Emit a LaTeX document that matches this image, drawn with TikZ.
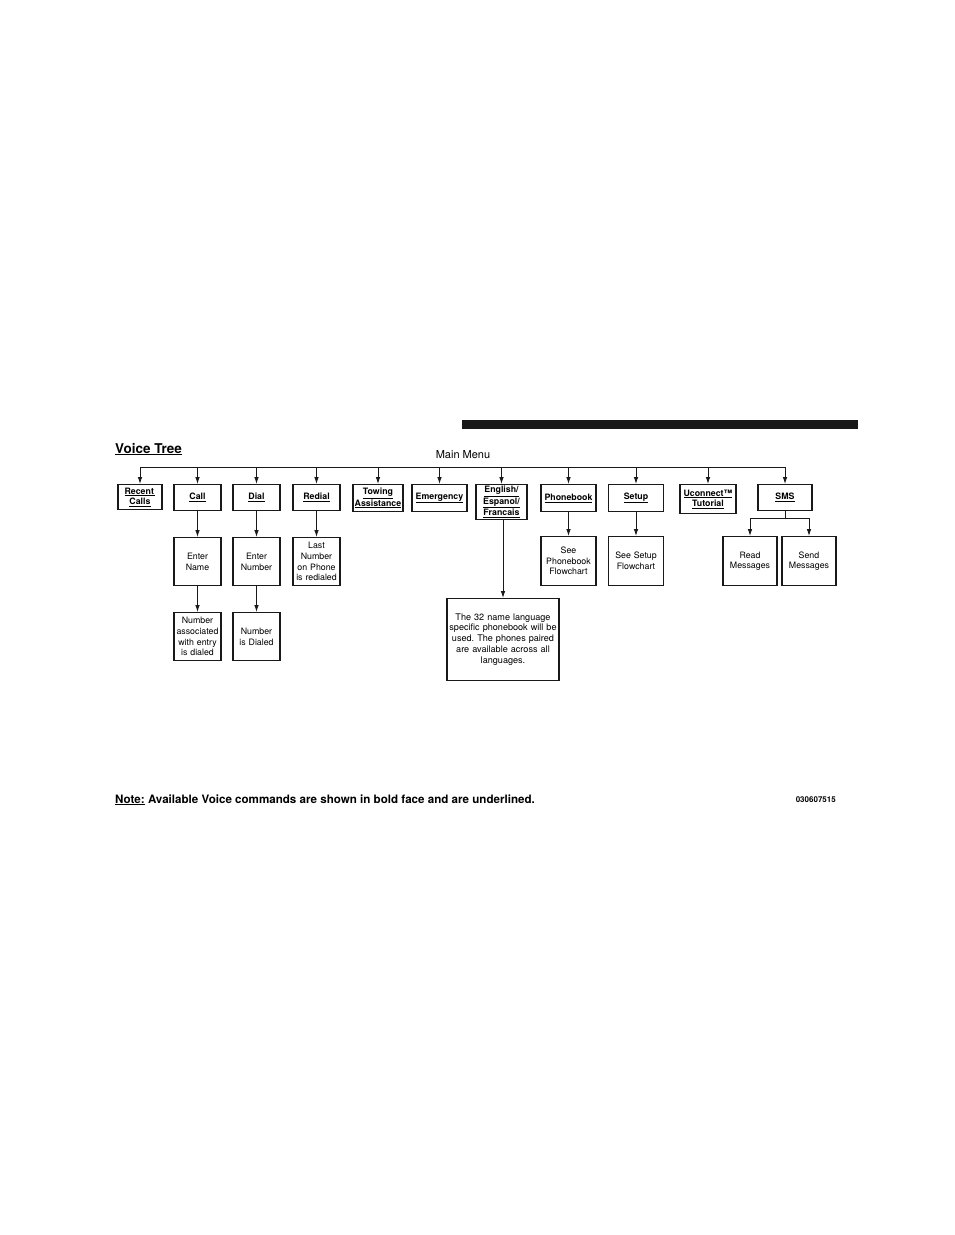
\documentclass[tikz,border=0pt]{standalone}
\usepackage{fontspec}
\setmainfont{TeX Gyre Heros}
\usetikzlibrary{arrows.meta}
\newcommand{\ulb}[1]{\underline{#1}}
\frenchspacing
\begin{document}
\begin{tikzpicture}[x=1pt,y=-1pt,
  bx/.style={draw=black!90, line width=1.1pt, inner sep=0pt, align=center, anchor=north,
    font=\fontsize{8.8}{10.6}\selectfont},
  cmd/.style={bx, font=\fontsize{8.8}{10.3}\selectfont\bfseries},
  sz/.style 2 args={minimum width=#1, minimum height=#2, text width=#1-2},
  conn/.style={line width=0.9pt, draw=black!90},
  arr/.style={conn, -{Latex[length=7pt,width=4.6pt]}}]
\useasboundingbox (0,0) rectangle (954,1235);
% top bar
\fill[black!90] (462,420) rectangle (858,429);
\node[anchor=base west, font=\fontsize{13.5}{15}\selectfont\bfseries, inner sep=0pt] (title) at (115,453) {\underline{Voice Tree}};
\node[anchor=base, font=\fontsize{11}{13}\selectfont, inner sep=0pt] (mm) at (463,458) {Main Menu};
% bus
\coordinate (busL) at (140,467);
\coordinate (busR) at (786,467);
\draw[conn] (busL) -- (busR);
% first row
\node[cmd, sz={44}{25}] (rc)    at (140,484)   {\ulb{Recent\,}\\\ulb{Calls}};
\node[cmd, sz={47}{26}] (call)  at (197.5,484) {\ulb{Call}};
\node[cmd, sz={47}{26}] (dial)  at (256.5,484) {\ulb{Dial}};
\node[cmd, sz={47}{26}] (redial) at (316.5,484) {\ulb{Redial}};
\node[cmd, sz={50}{27}] (tow)   at (378,484)   {\ulb{Towing}\\\ulb{Assistance}};
\node[cmd, sz={55}{27}] (emer)  at (439.5,484) {\ulb{Emergency}};
\node[cmd, sz={51}{35}] (eng)   at (501.5,484) {\ulb{English/}\\\ulb{Espanol/}\\\ulb{Francais}};
\node[cmd, sz={55}{27}] (phone) at (568.5,484) {\ulb{Phonebook}};
\node[cmd, sz={55}{27}] (setup) at (636,484)   {\ulb{Setup}};
\node[cmd, sz={56}{29}] (ucon)  at (708,484)   {\ulb{Uconnect™}\\\ulb{Tutorial}};
\node[cmd, sz={54}{26}] (sms)   at (785,484)   {\ulb{SMS}};
\foreach \n in {rc,call,dial,redial,tow,emer,eng,phone,setup,ucon,sms}
  \draw[arr] (\n.north |- busL) -- (\n.north);
% second row
\node[bx, sz={47}{48}] (ename) at (197.5,537) {Enter\\Name};
\node[bx, sz={47}{48}] (enum)  at (256.5,537) {Enter\\Number};
\node[bx, sz={47}{48}] (last)  at (316.5,537) {Last\\Number\\on Phone\\is redialed};
\node[bx, sz={55}{49}] (seepb) at (568.5,536) {See\\Phonebook\\Flowchart};
\node[bx, sz={55}{49}] (seesu) at (636,536)   {See Setup\\Flowchart};
\node[bx, sz={54}{49}] (read)  at (750,536)   {Read\\Messages};
\node[bx, sz={54}{49}] (send)  at (809,536)   {Send\\Messages};
\draw[arr] (call.south) -- (ename.north);
\draw[arr] (dial.south) -- (enum.north);
\draw[arr] (redial.south) -- (last.north);
\draw[arr] (phone.south) -- (seepb.north);
\draw[arr] (setup.south) -- (seesu.north);
\coordinate (smsj) at (785,518);
\draw[conn] (sms.south) -- (smsj);
\draw[conn] (read.north |- smsj) -- (send.north |- smsj);
\draw[arr] (read.north |- smsj) -- (read.north);
\draw[arr] (send.north |- smsj) -- (send.north);
% third row
\node[bx, sz={47}{48}] (nassoc) at (197.5,612) {Number\\associated\\with entry\\is dialed};
\node[bx, sz={47}{48}] (ndial)  at (256.5,612) {Number\\is Dialed};
\draw[arr] (ename.south) -- (nassoc.north);
\draw[arr] (enum.south) -- (ndial.north);
% language box
\node[bx, sz={112}{82}, font=\fontsize{9.1}{10.9}\selectfont] (lang) at (503,598)
  {The 32 name language\\specific phonebook will be\\used. The phones paired\\are available across all\\languages.};
\draw[arr] (lang.north |- eng.south) -- (lang.north);
% note
\node[anchor=base west, inner sep=0pt, font=\fontsize{11.6}{13}\selectfont\bfseries] (note) at (115,803)
  {\underline{Note:} Available Voice commands are shown in bold face and are underlined.};
\node[anchor=base east, inner sep=0pt, font=\fontsize{8}{10}\selectfont\bfseries] (code) at (836,802) {030607515};
\end{tikzpicture}
\end{document}
